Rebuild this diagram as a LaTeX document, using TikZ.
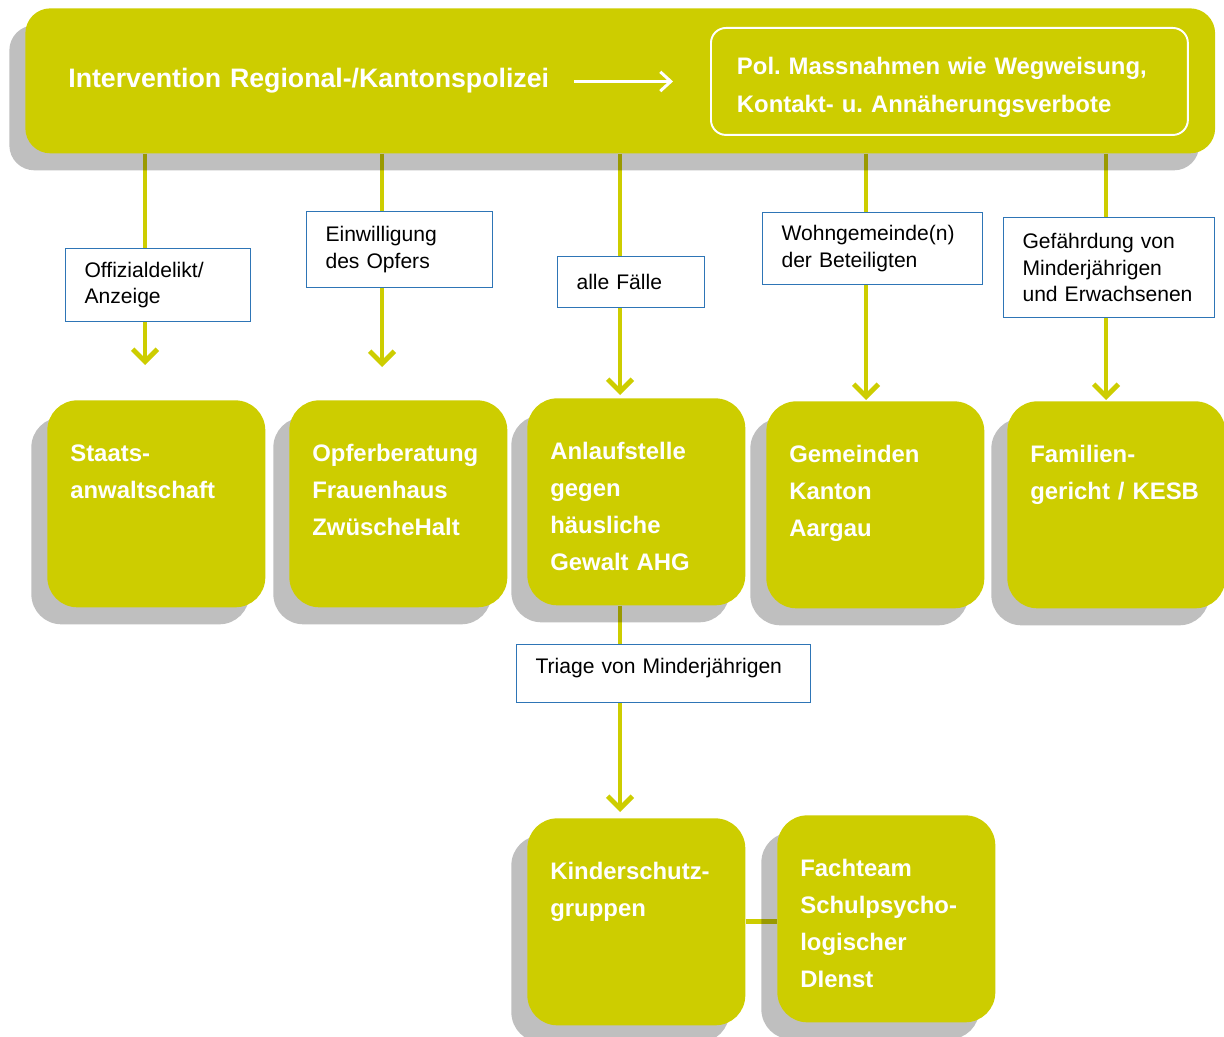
\documentclass[tikz,border=0pt]{standalone}
\usepackage{fontspec}
\setmainfont{Liberation Sans}
\usetikzlibrary{arrows.meta}
\usetikzlibrary{shadows}
\usetikzlibrary{backgrounds}
\definecolor{gruen}{RGB}{205,205,0}
\definecolor{rahmen}{RGB}{46,117,182}
\frenchspacing

\begin{document}
\begin{tikzpicture}[x=0.02cm,y=-0.02cm,
	schatten/.style={drop shadow={shadow xshift=-0.32cm,shadow yshift=-0.34cm,fill=black,opacity=0.25}},
	balken/.style={schatten,fill=gruen,rounded corners=0.5cm,anchor=north west,
		text=white,font=\fontsize{15.2}{18}\selectfont\bfseries,align=left,
		text width=22.08cm,inner xsep=0.86cm,minimum height=2.9cm},
	massnahme/.style={draw=white,line width=1.1pt,rounded corners=0.3cm,anchor=north west,
		text=white,font=\fontsize{13.6}{21.6}\selectfont\bfseries,align=left,
		text width=8.5cm,inner xsep=0.52cm,inner ysep=0pt,
		text height=0.94cm,text depth=1.2cm},
	stelle/.style={schatten,fill=gruen,rounded corners=0.6cm,anchor=north west,
		text=white,font=\fontsize{13.6}{21}\selectfont\bfseries,align=left,
		text width=3.44cm,inner xsep=0.46cm,inner ysep=0pt,
		text height=1.22cm,text depth=2.92cm},
	hinweis/.style={draw=rahmen,line width=0.6pt,fill=white,anchor=north west,
		font=\fontsize{12}{15}\selectfont,align=left,inner xsep=0.38cm,inner ysep=0pt},
	linie/.style={draw=gruen,line width=2.8pt},
	pfeil/.style={linie,-{Straight Barb[length=7pt,width=14pt]}},
	weisspfeil/.style={draw=white,line width=1.7pt,-{Straight Barb[length=6pt,width=11pt]}}]

	\useasboundingbox (0,0) rectangle (1224,1037);

	\node[balken] (polizei) at (25,8) {Intervention Regional-/Kantonspolizei};
	\node[massnahme] (massn) at (710,27) {Pol. Massnahmen wie Wegweisung,\\Kontakt- u. Ann\"aherungsverbote};
	\draw[weisspfeil] ([xshift=-2.72cm]massn.west) -- ([xshift=-0.74cm]massn.west);

	\node[stelle] (sta) at (47,400) {Staats-\\anwaltschaft};
	\node[stelle] (opfer) at (289,400) {Opferberatung\\Frauenhaus\\Zw\"uscheHalt};
	\node[stelle] (ahg) at (527,398) {Anlaufstelle\\gegen\\h\"ausliche\\Gewalt AHG};
	\node[stelle] (gem) at (766,401) {Gemeinden\\Kanton\\Aargau};
	\node[stelle] (fam) at (1007,401) {Familien-\\gericht / KESB};
	\node[stelle] (kinder) at (527,818) {Kinderschutz-\\gruppen};
	\node[stelle] (fach) at (777,815) {Fachteam\\Schulpsycho-\\logischer\\DIenst};

	\coordinate (t1) at (145,365);
	\coordinate (t2) at (382,367);
	\coordinate (t3) at (620,395);
	\coordinate (t4) at (866,400);
	\coordinate (t5) at (1106,400);
	\coordinate (t6) at (620,812);

	\node[hinweis,text width=2.94cm,minimum height=1.46cm] (h1) at (65,248) {Offizialdelikt/\\Anzeige};
	\node[hinweis,text width=2.96cm,minimum height=1.52cm] (h2) at (306,211) {Einwilligung\\des Opfers};
	\node[hinweis,text width=2.18cm,minimum height=1.02cm] (h3) at (557,256) {alle F\"alle};
	\node[hinweis,text width=3.64cm,minimum height=1.44cm] (h4) at (762,212) {Wohngemeinde(n)\\der Beteiligten};
	\node[hinweis,text width=3.46cm,minimum height=2.0cm] (h5) at (1003,217) {Gef\"ahrdung von\\Minderj\"ahrigen\\und Erwachsenen};
	\node[hinweis,text width=5.12cm,text height=0.58cm,text depth=0.58cm] (h6) at (516,644) {Triage von Minderj\"ahrigen};

	\begin{scope}[on background layer]
		\draw[pfeil] (polizei.south -| t1) -- (t1);
		\draw[pfeil] (polizei.south -| t2) -- (t2);
		\draw[pfeil] (polizei.south -| t3) -- (t3);
		\draw[pfeil] (polizei.south -| t4) -- (t4);
		\draw[pfeil] (polizei.south -| t5) -- (t5);
		\draw[pfeil] (ahg.south -| t6) -- (t6);
		\draw[linie] (kinder.east) -- (kinder.east -| fach.west);
	\end{scope}
\end{tikzpicture}
\end{document}
